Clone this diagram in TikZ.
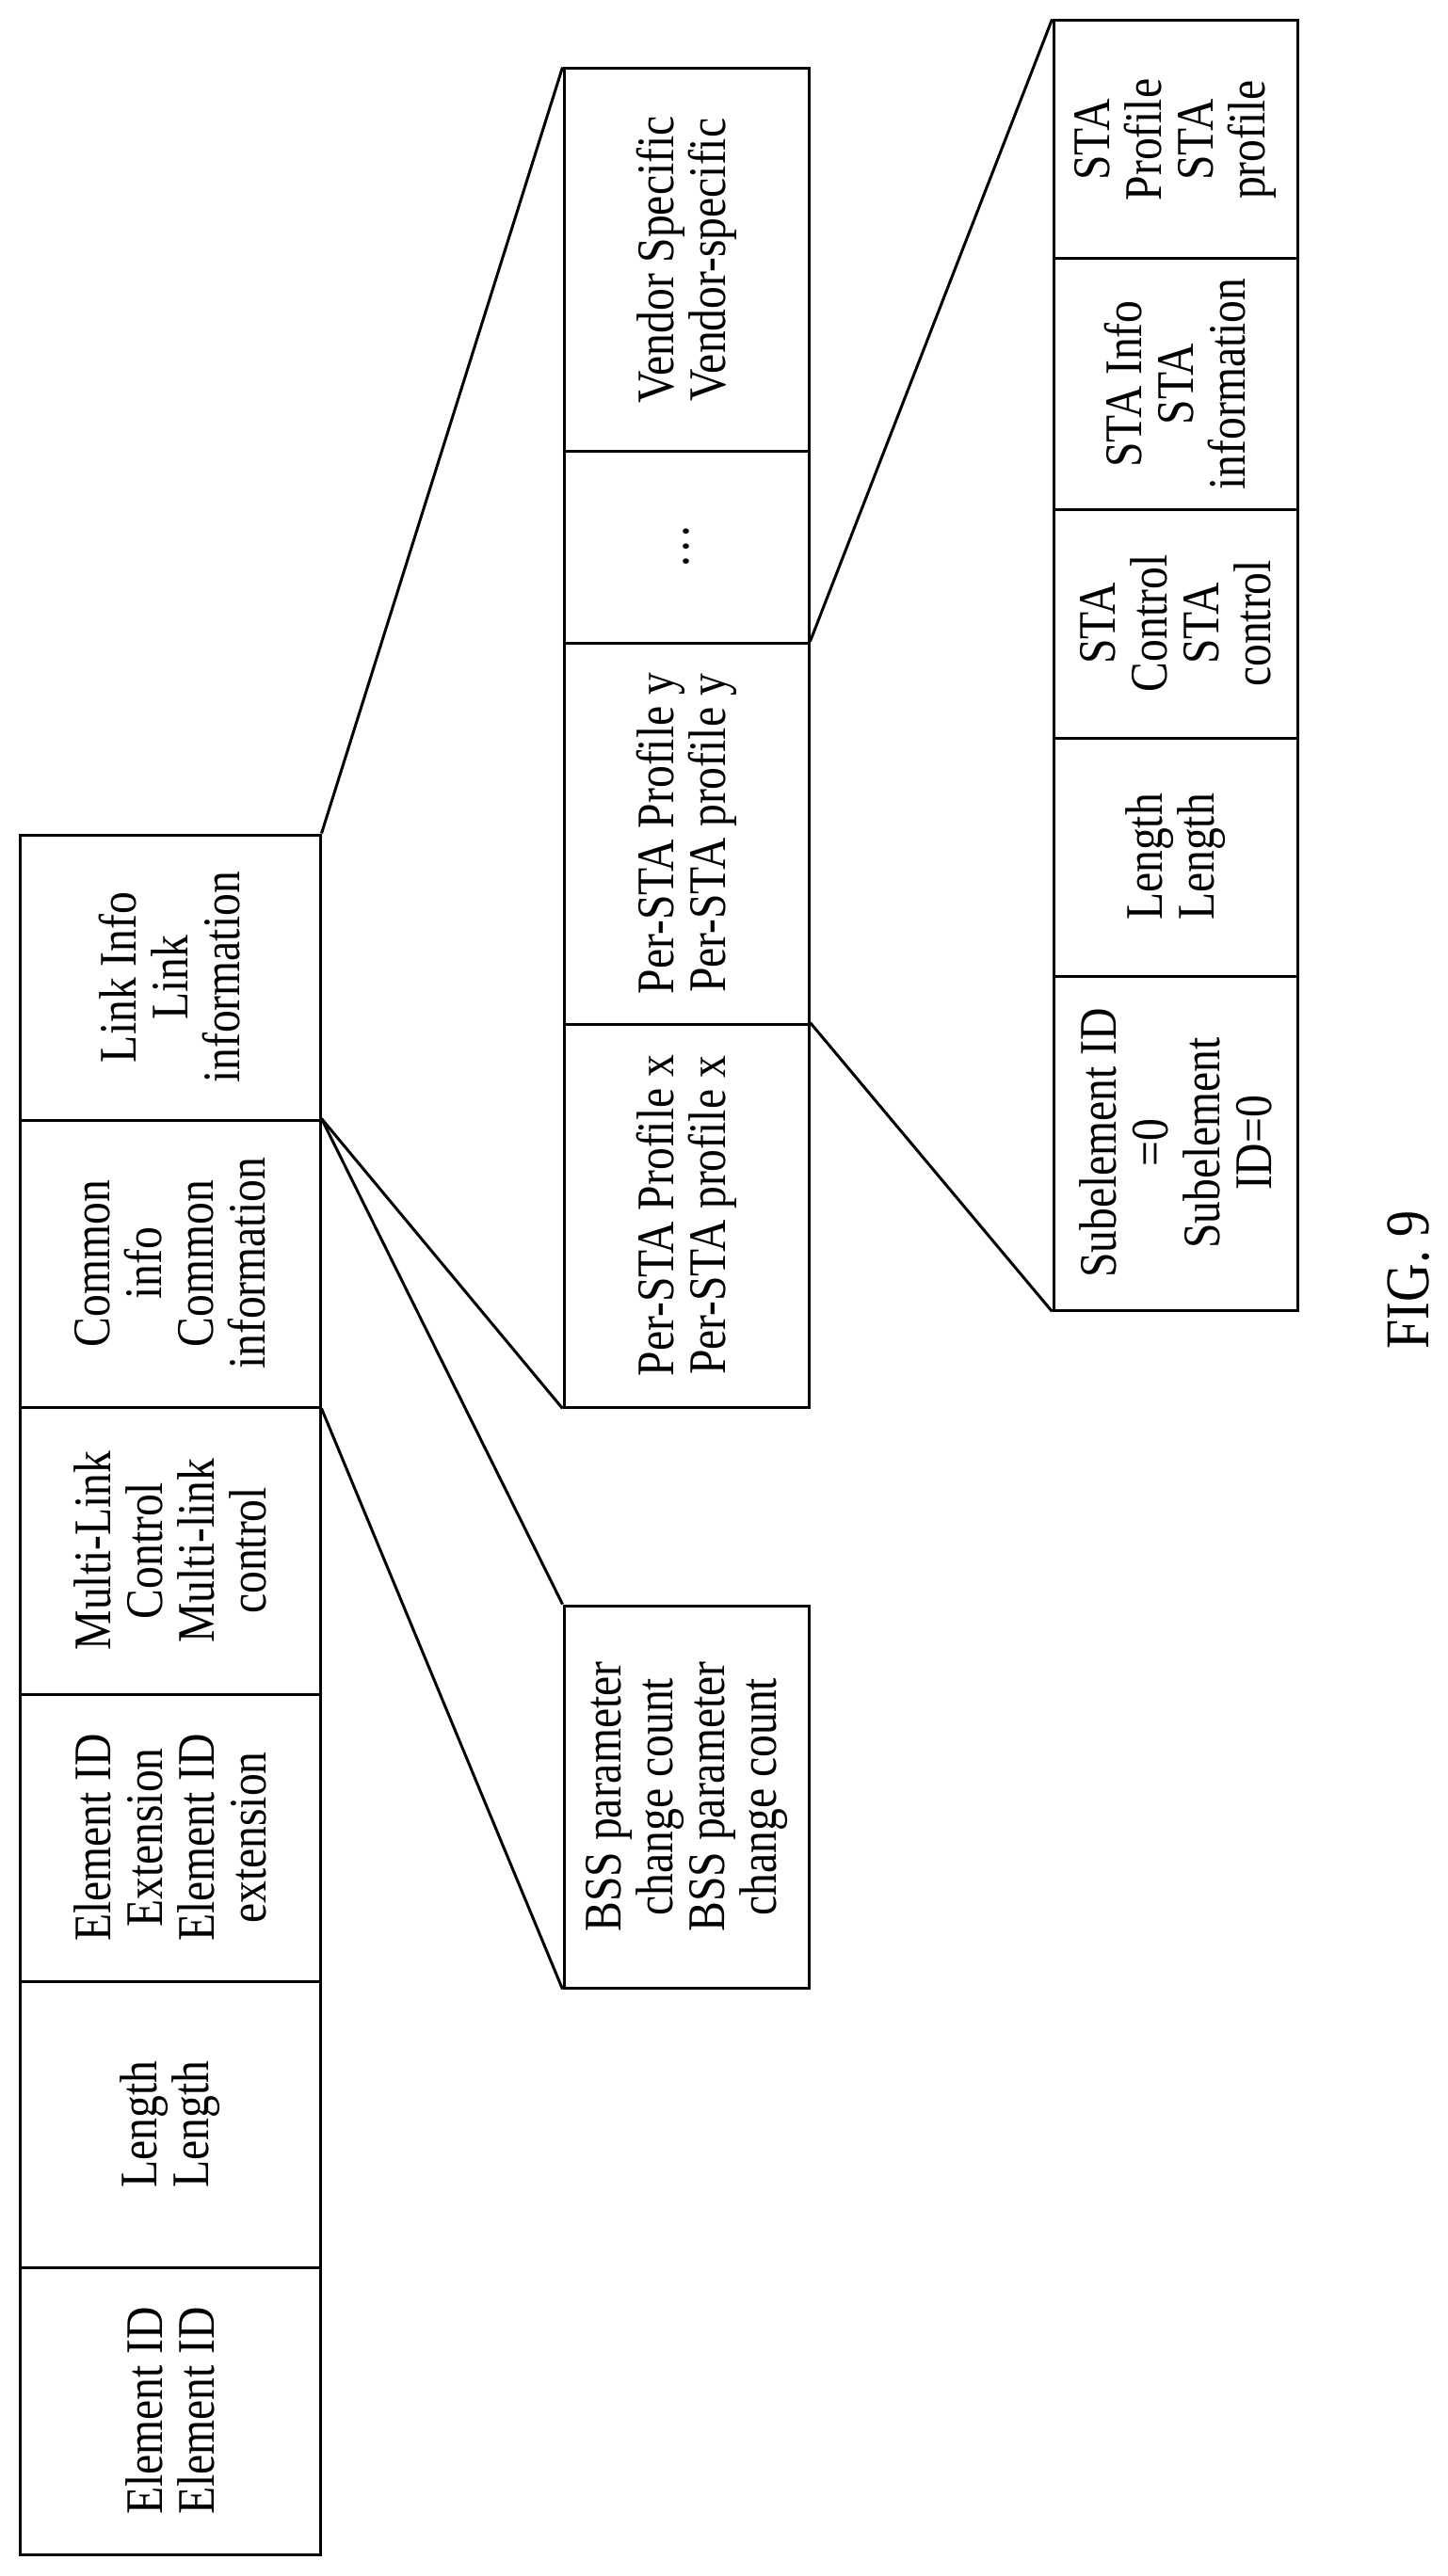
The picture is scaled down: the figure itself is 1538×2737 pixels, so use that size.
\documentclass[tikz,border=0pt]{standalone}
\usepackage{fontspec}
\setmainfont{Liberation Serif}[FakeStretch=0.85]
\begin{document}
\begin{tikzpicture}[x=1pt, y=-1pt, line width=3pt,
  cell/.style={draw, rotate=90, inner sep=0pt, align=center,
    font=\fontsize{56}{55}\selectfont},
  main/.style={cell, minimum height=319pt},
  mid/.style={cell, minimum height=260pt},
  sub/.style={cell, minimum height=259pt}]
  \useasboundingbox (0,0) rectangle (1538,2737);

  % main element
  \node[main, minimum width=305pt] (eid) at (180.5, 2561.5) {Element ID\\Element ID};
  \node[main, minimum width=304pt] (len) at (180.5, 2257) {Length\\Length};
  \node[main, minimum width=305pt] (eext) at (180.5, 1952.5) {Element ID\\Extension\\Element ID\\extension};
  \node[main, minimum width=305pt] (mlc) at (180.5, 1647.5) {Multi-Link\\Control\\Multi-link\\control};
  \node[main, minimum width=305pt] (com) at (180.5, 1342.5) {Common\\info\\Common\\information};
  \node[main, minimum width=303pt] (lnk) at (180.5, 1038.5) {Link Info\\Link\\information};

  % common info
  \node[mid, minimum width=406pt] (bss) at (729, 1909) {BSS parameter\\change count\\BSS parameter\\change count};

  % link info
  \node[mid, minimum width=407pt] (pstax) at (729, 1291.5) {Per-STA Profile x\\Per-STA profile x};
  \node[mid, minimum width=405pt] (pstay) at (729, 885.5) {Per-STA Profile y\\Per-STA profile y};
  \node[mid, minimum width=204pt] (dots) at (729, 581) {\dots};
  \node[mid, minimum width=406pt] (vend) at (729, 276) {Vendor Specific\\Vendor-specific};

  % per-STA profile
  \node[sub, minimum width=355pt] (subid) at (1248.5, 1214.5) {Subelement ID\\=0\\Subelement\\ID=0};
  \node[sub, minimum width=253pt] (slen) at (1248.5, 910.5) {Length\\Length};
  \node[sub, minimum width=243pt] (sctl) at (1248.5, 662.5) {STA\\Control\\STA\\control};
  \node[sub, minimum width=266pt] (sinf) at (1248.5, 408) {STA Info\\STA\\information};
  \node[sub, minimum width=253pt] (sprf) at (1248.5, 148.5) {STA\\Profile\\STA\\profile};

  \draw (lnk.south east) -- (vend.north east);
  \draw (com.south east) -- (pstax.north west);
  \draw (com.south east) -- (bss.north east);
  \draw (com.south west) -- (bss.north west);
  \draw (pstax.south east) -- (subid.north west);
  \draw (pstay.south east) -- (sprf.north east);

  \node[rotate=90, font=\fontsize{66}{70}\selectfont] (fig) at (1496, 1360) {FIG. 9};
\end{tikzpicture}
\end{document}
